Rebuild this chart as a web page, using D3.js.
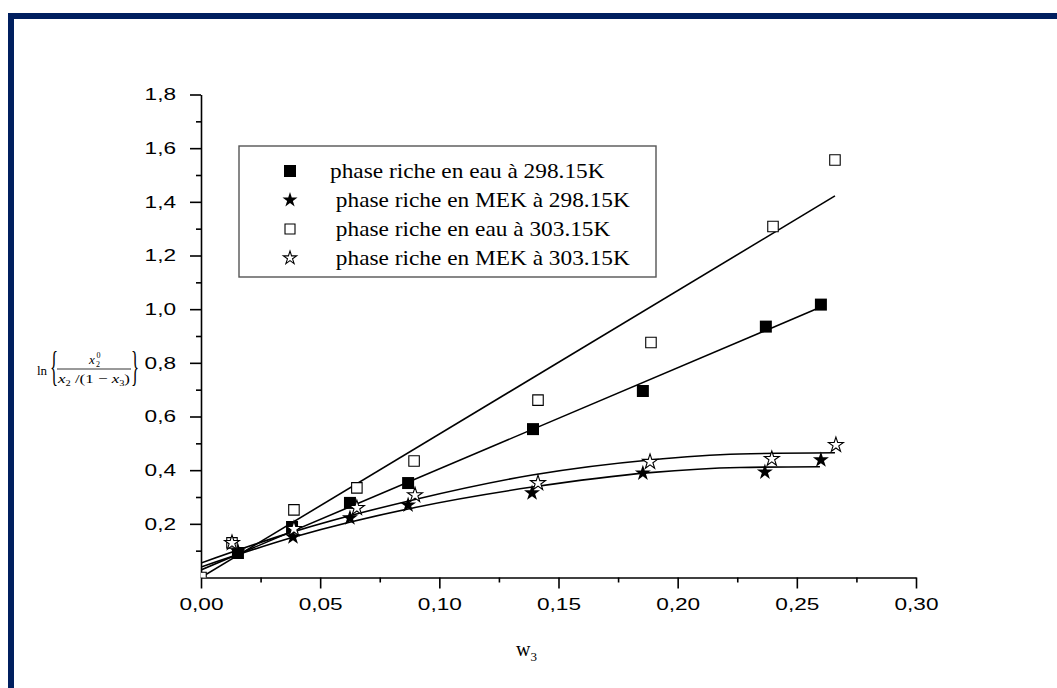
<!DOCTYPE html>
<html>
<head>
<meta charset="utf-8">
<script src="https://cdn.jsdelivr.net/npm/d3@7"></script>
<style>
  body { margin: 0; background: #fff; }
  svg { display: block; }
</style>
</head>
<body>
<div id="container"></div>
<script>
// chart values
var xTicks = [0, 0.05, 0.1, 0.15, 0.2, 0.25, 0.3]
var xMinor = [0.025, 0.075, 0.125, 0.175, 0.225, 0.275]
var yTicks = [0.2, 0.4, 0.6, 0.8, 1.0, 1.2, 1.4, 1.6, 1.8]
var yMinor = [0.1, 0.3, 0.5, 0.7, 0.9, 1.1, 1.3, 1.5, 1.7]

var seriesNames = [
    'phase riche en eau à 298.15K',
    ' phase riche en MEK à 298.15K',
    ' phase riche en eau à 303.15K',
    ' phase riche en MEK à 303.15K'
]

// w3, ln{...}
var eau298 = [[0.0155, 0.091], [0.0382, 0.188], [0.0625, 0.278], [0.0869, 0.352],
    [0.1393, 0.553], [0.1854, 0.695], [0.237, 0.935], [0.2601, 1.017]]
var mek298 = [[0.0155, 0.098], [0.0386, 0.151], [0.0625, 0.222], [0.0869, 0.27],
    [0.1389, 0.315], [0.1854, 0.389], [0.2366, 0.393], [0.2601, 0.438]]
var eau303 = [[0, 0], [0.013, 0.129], [0.039, 0.252], [0.0654, 0.334], [0.0894, 0.434],
    [0.1414, 0.661], [0.1888, 0.876], [0.24, 1.308], [0.266, 1.556]]
var mek303 = [[0.013, 0.129], [0.039, 0.181], [0.0654, 0.259], [0.0898, 0.307],
    [0.1414, 0.352], [0.1884, 0.431], [0.2395, 0.442], [0.2664, 0.494]]

// fitted lines / curves as seen in the figure
var fitEau298 = [[0, 0.028], [0.2601, 1.008]]
var fitEau303 = [[0, 0], [0.266, 1.422]]
var fitMek298 = [[0, 0.039], [0.0386, 0.15], [0.0898, 0.261], [0.139, 0.337],
    [0.1884, 0.391], [0.226, 0.41], [0.2597, 0.413]]
var fitMek303 = [[0, 0.054], [0.0386, 0.17], [0.0898, 0.291], [0.139, 0.382],
    [0.1884, 0.438], [0.226, 0.46], [0.266, 0.465]]

var width = 1057,
    height = 688
var margin = { top: 94.5, left: 201, right: 1057 - 916, bottom: 688 - 577.5 }
var plotW = width - margin.left - margin.right,
    plotH = height - margin.top - margin.bottom

var comma = d3.formatLocale({ decimal: ',', thousands: '.', grouping: [3], currency: ['', ''] })
var fmtX = comma.format('.2f'),
    fmtY = comma.format('.1f')

var x = d3.scaleLinear().domain([0, 0.3]).range([0, plotW])
var y = d3.scaleLinear().domain([0, 1.8]).range([plotH, 0])

var svg = d3
    .select('#container')
    .append('svg')
    .attr('width', width)
    .attr('height', height)

// dark blue frame (top and left)
svg.append('rect').attr('x', 8).attr('y', 13).attr('width', width - 8).attr('height', 6).attr('fill', '#001f5f')
svg.append('rect').attr('x', 8).attr('y', 13).attr('width', 6).attr('height', height - 13).attr('fill', '#001f5f')

var g = svg.append('g').attr('transform', 'translate(' + margin.left + ',' + margin.top + ')')

g.append('clipPath')
    .attr('id', 'plotClip')
    .append('rect')
    .attr('width', plotW)
    .attr('height', plotH)

// stretch helper, the original text is wider than our fonts
function stretch(sel, k) {
    sel.each(function() {
        var len = this.getComputedTextLength()
        d3.select(this).attr('textLength', len * k).attr('lengthAdjust', 'spacingAndGlyphs')
    })
}

// axes
var xAxis = g.append('g')
    .attr('transform', 'translate(0,' + plotH + ')')
    .call(d3.axisBottom(x).tickValues(xTicks).tickFormat(fmtX).tickSize(11).tickSizeOuter(0).tickPadding(9))
g.append('g')
    .attr('transform', 'translate(0,' + plotH + ')')
    .call(d3.axisBottom(x).tickValues(xMinor).tickFormat('').tickSize(5).tickSizeOuter(0))
    .select('.domain').remove()

var yAxis = g.append('g')
    .call(d3.axisLeft(y).tickValues(yTicks).tickFormat(fmtY).tickSize(11).tickSizeOuter(0).tickPadding(14))
g.append('g')
    .call(d3.axisLeft(y).tickValues(yMinor).tickFormat('').tickSize(5).tickSizeOuter(0))
    .select('.domain').remove()

g.selectAll('.domain, .tick line').attr('stroke', '#000').attr('stroke-width', 1.6)
g.selectAll('.tick text')
    .attr('fill', '#000')
    .style('font-family', 'Arial, "Liberation Sans", sans-serif')
    .style('font-size', '17px')
stretch(xAxis.selectAll('.tick text'), 1.33)
stretch(yAxis.selectAll('.tick text'), 1.33)

// fit lines
var line = d3.line()
    .x(function(d) { return x(d[0]) })
    .y(function(d) { return y(d[1]) })
var curve = d3.line()
    .x(function(d) { return x(d[0]) })
    .y(function(d) { return y(d[1]) })
    .curve(d3.curveMonotoneX)

var fits = g.append('g').attr('clip-path', 'url(#plotClip)')
fits.append('path').datum(fitEau303).attr('d', line)
fits.append('path').datum(fitEau298).attr('d', line)
fits.append('path').datum(fitMek298).attr('d', curve)
fits.append('path').datum(fitMek303).attr('d', curve)
fits.selectAll('path').attr('fill', 'none').attr('stroke', '#000').attr('stroke-width', 1.6)

// markers
var styles = [
    { type: d3.symbolSquare, size: 144, legendSize: 144, fill: '#000', stroke: 'none' },
    { type: d3.symbolStar, size: 80, legendSize: 70, fill: '#000', stroke: 'none' },
    { type: d3.symbolSquare, size: 110, legendSize: 100, fill: '#fff', stroke: '#000' },
    { type: d3.symbolStar, size: 70, legendSize: 55, fill: '#fff', stroke: '#000' }
]
var allSeries = [eau298, mek298, eau303, mek303]

var marks = g.append('g').attr('clip-path', 'url(#plotClip)')
allSeries.forEach(function(data, i) {
    marks.append('g')
        .selectAll('path')
        .data(data)
        .enter()
        .append('path')
        .attr('transform', function(d) { return 'translate(' + x(d[0]) + ',' + y(d[1]) + ')' })
        .attr('d', d3.symbol().type(styles[i].type).size(styles[i].size))
        .attr('fill', styles[i].fill)
        .attr('stroke', styles[i].stroke)
        .attr('stroke-width', 1.1)
})

// legend
var legend = svg.append('g').attr('transform', 'translate(239,146)')
legend.append('rect')
    .attr('width', 417)
    .attr('height', 131)
    .attr('fill', '#fff')
    .attr('stroke', '#555')
    .attr('stroke-width', 1.4)

var item = legend.selectAll('.item')
    .data(seriesNames)
    .enter()
    .append('g')
    .attr('class', 'item')
    .attr('transform', function(d, i) { return 'translate(0,' + (25 + i * 29) + ')' })

item.append('path')
    .attr('transform', 'translate(51,0)')
    .attr('d', function(d, i) { return d3.symbol().type(styles[i].type).size(styles[i].legendSize)() })
    .attr('fill', function(d, i) { return styles[i].fill })
    .attr('stroke', function(d, i) { return styles[i].stroke })
    .attr('stroke-width', 1.1)

item.append('text')
    .attr('x', 91)
    .attr('y', 6.5)
    .attr('xml:space', 'preserve')
    .style('font-family', '"Times New Roman", "Liberation Serif", serif')
    .style('font-size', '22px')
    .style('white-space', 'pre')
    .text(function(d) { return d })
stretch(item.selectAll('text'), 1.06)

// x axis title: w3
var xt = svg.append('text')
    .attr('x', 516)
    .attr('y', 656)
    .style('font-family', '"Times New Roman", "Liberation Serif", serif')
    .style('font-size', '20px')
xt.append('tspan').text('w')
xt.append('tspan').attr('dy', 5).style('font-size', '13px').text('3')

// y axis title: ln{ x2^0 / (x2/(1-x3)) }
var yl = svg.append('g').style('font-family', '"Times New Roman", "Liberation Serif", serif').attr('fill', '#000')
yl.append('text').attr('x', 37).attr('y', 375).style('font-size', '13px').text('ln')
yl.append('text')
    .attr('transform', 'translate(50,380) scale(0.4,1)')
    .style('font-size', '42px')
    .text('{')
yl.append('text')
    .attr('transform', 'translate(131,380) scale(0.4,1)')
    .style('font-size', '42px')
    .text('}')
yl.append('text').attr('x', 89).attr('y', 364).style('font-size', '13px').style('font-style', 'italic').text('x')
yl.append('text').attr('x', 96).attr('y', 367).style('font-size', '8px').text('2')
yl.append('text').attr('x', 96.5).attr('y', 358).style('font-size', '8px').text('0')
yl.append('line')
    .attr('x1', 57).attr('x2', 131)
    .attr('y1', 369).attr('y2', 369)
    .attr('stroke', '#000').attr('stroke-width', 0.8)
var den = yl.append('text').attr('x', 58).attr('y', 383).style('font-size', '13px').attr('xml:space', 'preserve')
den.append('tspan').style('font-style', 'italic').text('x')
den.append('tspan').attr('dy', 3).style('font-size', '8px').text('2')
den.append('tspan').attr('dy', -3).text(' /(1 − ')
den.append('tspan').style('font-style', 'italic').text('x')
den.append('tspan').attr('dy', 3).style('font-size', '8px').text('3')
den.append('tspan').attr('dy', -3).text(')')
den.attr('textLength', 72).attr('lengthAdjust', 'spacingAndGlyphs')
</script>
</body>
</html>
